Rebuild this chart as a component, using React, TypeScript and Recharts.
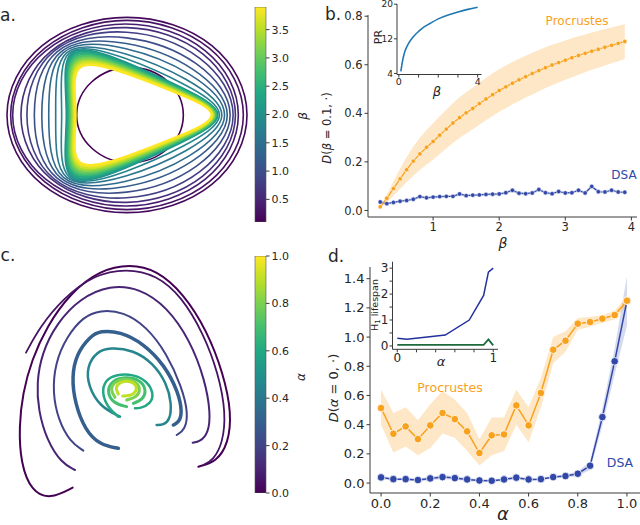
import React from 'react'
import { LineChart, ComposedChart, BarChart, Line, Area, Bar, XAxis, YAxis } from 'recharts'

const FONT = '"DejaVu Sans", Verdana, sans-serif'
const INK = '#262626'
const AXIS = '#3a3a3a'
const ORANGE = '#f8a11c'
const BLUE = '#3148a8'

// ---- panel b: distance to beta = 0.1
const betaB = [0.2, 0.3, 0.4, 0.5, 0.6, 0.7, 0.8, 0.9, 1.0, 1.1, 1.2, 1.3, 1.4, 1.5, 1.6, 1.7, 1.8, 1.9, 2.0, 2.1,
  2.2, 2.3, 2.4, 2.5, 2.6, 2.7, 2.8, 2.9, 3.0, 3.1, 3.2, 3.3, 3.4, 3.5, 3.6, 3.7, 3.8, 3.9]
const procB = [0.015, 0.05, 0.09, 0.13, 0.168, 0.203, 0.233, 0.26, 0.284, 0.31, 0.335, 0.36, 0.382, 0.402, 0.42, 0.44,
  0.459, 0.477, 0.494, 0.509, 0.524, 0.538, 0.551, 0.564, 0.576, 0.588, 0.599, 0.609, 0.619, 0.629, 0.638, 0.647,
  0.656, 0.664, 0.672, 0.68, 0.688, 0.696]
const procBSpread = [0.004, 0.016, 0.03, 0.042, 0.052, 0.06, 0.066, 0.071, 0.075, 0.078, 0.08, 0.082, 0.084, 0.085,
  0.086, 0.087, 0.087, 0.088, 0.088, 0.088, 0.087, 0.087, 0.086, 0.086, 0.085, 0.084, 0.083, 0.082, 0.081, 0.08,
  0.079, 0.078, 0.077, 0.076, 0.075, 0.074, 0.073, 0.072]
const dsaB = [0.035, 0.028, 0.033, 0.038, 0.041, 0.046, 0.057, 0.052, 0.055, 0.057, 0.058, 0.058, 0.068, 0.061, 0.063,
  0.064, 0.066, 0.067, 0.068, 0.073, 0.083, 0.071, 0.069, 0.072, 0.086, 0.073, 0.069, 0.078, 0.072, 0.073, 0.083,
  0.072, 0.099, 0.077, 0.076, 0.083, 0.076, 0.075]
const dsaBSpread = [0.006, 0.005, 0.005, 0.005, 0.005, 0.006, 0.006, 0.005, 0.005, 0.005, 0.005, 0.005, 0.006, 0.005,
  0.005, 0.005, 0.005, 0.005, 0.005, 0.006, 0.007, 0.006, 0.005, 0.006, 0.007, 0.006, 0.005, 0.006, 0.005, 0.005,
  0.006, 0.006, 0.008, 0.006, 0.005, 0.006, 0.005, 0.005]
const bTicksX = [1, 2, 3, 4]
const bTicksY = [0, 0.2, 0.4, 0.6, 0.8]

// ---- inset b: participation ratio
const betaPR = [0.1, 0.2, 0.3, 0.5, 0.7, 1.0, 1.3, 1.6, 2.0, 2.5, 3.0, 3.5, 4.0]
const prVals = [4.5, 7.2, 9.0, 11.0, 12.3, 13.7, 14.8, 15.6, 16.6, 17.5, 18.2, 18.8, 19.3]

// ---- panel d: distance to alpha = 0
const alphaD = [0, 0.05, 0.1, 0.15, 0.2, 0.25, 0.3, 0.35, 0.4, 0.45, 0.5, 0.55, 0.6, 0.65, 0.7, 0.75, 0.8, 0.85, 0.9, 0.95, 1.0]
const procD = [0.514, 0.338, 0.388, 0.301, 0.395, 0.48, 0.438, 0.354, 0.206, 0.327, 0.333, 0.532, 0.395, 0.617, 0.913,
  0.975, 1.092, 1.103, 1.126, 1.151, 1.249]
const procDLow = [0.4, 0.21, 0.25, 0.19, 0.24, 0.34, 0.31, 0.22, 0.12, 0.19, 0.22, 0.4, 0.28, 0.52, 0.82, 0.9, 1.05,
  1.07, 1.1, 1.12, 1.22]
const procDHigh = [0.64, 0.48, 0.52, 0.43, 0.54, 0.63, 0.57, 0.48, 0.3, 0.45, 0.45, 0.64, 0.52, 0.72, 1.0, 1.04, 1.13,
  1.14, 1.15, 1.18, 1.28]
const dsaD = [0.039, 0.027, 0.027, 0.021, 0.032, 0.041, 0.034, 0.025, 0.018, 0.016, 0.025, 0.037, 0.025, 0.027, 0.041,
  0.048, 0.064, 0.119, 0.452, 0.834, 1.249]
const dsaDSpread = [0.012, 0.01, 0.01, 0.01, 0.012, 0.015, 0.012, 0.01, 0.01, 0.01, 0.01, 0.012, 0.01, 0.01, 0.01, 0.012,
  0.015, 0.03, 0.06, 0.09, 0.17]
const dTicksX = [0, 0.2, 0.4, 0.6, 0.8, 1.0]
const dTicksY = [0, 0.2, 0.4, 0.6, 0.8, 1.0, 1.2, 1.4]

// ---- inset d: H1 lifespan
const alphaH1 = [0, 0.1, 0.5, 0.75, 0.9, 0.95, 1.0]
const h1Long = [0.3, 0.26, 0.42, 1.0, 1.95, 2.85, 3.0]
const h1Short = [0.04, 0.04, 0.04, 0.04, 0.04, 0.25, 0.02]

// ---- panel a: limit cycles for each beta (state space, control points)
const aBetas = [0.1, 0.2, 0.3, 0.4, 0.6, 0.8, 1.0, 1.2, 1.4, 1.6, 1.8, 2.0, 2.2, 2.4, 2.6, 2.8, 3.0, 3.2, 3.4, 3.6, 3.8, 3.9]
const aLoops = [
  [[6.2, 0], [4.5, 3.7], [0.3, 5.3], [-3.9, 3.7], [-5.6, 0], [-3.9, -3.7], [0.3, -5.3], [4.5, -3.7]],
  [[13.3, 0], [9.4, 7.7], [0, 10.8], [-9.4, 7.7], [-13.3, 0], [-9.4, -7.7], [0, -10.8], [9.4, -7.7]],
  [[12.9, 0], [9.1, 7.4], [0, 10.5], [-9.1, 7.4], [-12.9, 0], [-9.1, -7.4], [0, -10.5], [9.1, -7.4]],
  [[12.35, 0], [8.7, 7.1], [-0.15, 10.1], [-9.0, 7.1], [-12.65, 0], [-9.0, -7.1], [-0.15, -10.1], [8.7, -7.1]],
  [[12.1, 0], [8.33, 6.76], [0.02, 9.62], [-8.47, 7.17], [-11.67, 0], [-8.47, -7.17], [0.02, -9.62], [8.33, -6.76]],
  [[11.96, 0], [7.92, 6.25], [0.04, 9.04], [-8.28, 7.27], [-10.87, 0], [-8.28, -7.27], [0.04, -9.04], [7.92, -6.25]],
  [[11.77, 0], [7.41, 5.62], [0.08, 8.32], [-8.04, 7.39], [-9.88, 0], [-8.04, -7.39], [0.08, -8.32], [7.41, -5.62]],
  [[11.59, 0], [6.9, 4.98], [0.11, 7.6], [-7.8, 7.5], [-8.88, 0], [-7.8, -7.5], [0.11, -7.6], [6.9, -4.98]],
  [[11.42, 0], [6.43, 4.39], [0.14, 6.93], [-7.58, 7.63], [-7.95, 0], [-7.58, -7.63], [0.14, -6.93], [6.43, -4.39]],
  [[11.25, 0], [5.96, 3.79], [0.17, 6.26], [-7.35, 7.75], [-7.02, 0], [-7.35, -7.75], [0.17, -6.26], [5.96, -3.79]],
  [[11.1, 0], [5.55, 3.28], [0.2, 5.68], [-7.16, 7.85], [-6.22, 0], [-7.16, -7.85], [0.2, -5.68], [5.55, -3.28]],
  [[10.98, 0], [5.21, 2.86], [0.22, 5.2], [-7.0, 7.93], [-5.56, 0], [-7.0, -7.93], [0.22, -5.2], [5.21, -2.86]],
  [[10.9, 0], [5.19, 2.79], [0.24, 5.08], [-6.9, 7.75], [-5.47, 0], [-6.9, -7.75], [0.24, -5.08], [5.19, -2.79]],
  [[10.83, 0], [5.17, 2.73], [0.27, 4.96], [-6.8, 7.56], [-5.39, 0], [-6.8, -7.56], [0.27, -4.96], [5.17, -2.73]],
  [[10.75, 0], [5.15, 2.66], [0.3, 4.84], [-6.7, 7.38], [-5.3, 0], [-6.7, -7.38], [0.3, -4.84], [5.15, -2.66]],
  [[10.67, 0], [5.13, 2.6], [0.33, 4.72], [-6.6, 7.2], [-5.21, 0], [-6.6, -7.2], [0.33, -4.72], [5.13, -2.6]],
  [[10.59, 0], [5.11, 2.53], [0.36, 4.6], [-6.5, 7.02], [-5.13, 0], [-6.5, -7.02], [0.36, -4.6], [5.11, -2.53]],
  [[10.51, 0], [5.08, 2.46], [0.39, 4.48], [-6.4, 6.83], [-5.04, 0], [-6.4, -6.83], [0.39, -4.48], [5.08, -2.46]],
  [[10.43, 0], [5.06, 2.4], [0.41, 4.36], [-6.3, 6.65], [-4.96, 0], [-6.3, -6.65], [0.41, -4.36], [5.06, -2.4]],
  [[10.36, 0], [5.04, 2.33], [0.44, 4.24], [-6.2, 6.47], [-4.87, 0], [-6.2, -6.47], [0.44, -4.24], [5.04, -2.33]],
  [[10.28, 0], [5.02, 2.27], [0.47, 4.12], [-6.1, 6.28], [-4.79, 0], [-6.1, -6.28], [0.47, -4.12], [5.02, -2.27]],
  [[10.2, 0], [5, 2.2], [0.5, 4], [-6, 6.1], [-4.7, 0], [-6, -6.1], [0.5, -4], [5, -2.2]],
]

// ---- panel c: trajectories for each alpha
const cAlphas = [0, 0.05, 0.1, 0.2, 0.3, 0.45, 0.6, 0.7, 0.8, 0.9]
const cArcs = [
  [[-1.57, -3.11], [-2.25, -3.46], [-2.8, -3.23], [-3.13, -2.38], [-3.18, -1.28], [-3.07, -0.28], [-2.8, 0.72],
    [-2.35, 1.72], [-1.65, 2.72], [-0.75, 3.42], [0.15, 3.6], [0.95, 3.42], [1.75, 2.72], [2.45, 1.62], [2.95, 0.32],
    [3.2, -0.88], [3.1, -1.78], [2.75, -2.33], [2.2, -2.48]],
  [[-2.97, 0.94], [-2.55, 1.72], [-1.85, 2.57], [-0.95, 3.27], [0.05, 3.47], [0.95, 3.27], [1.7, 2.62], [2.35, 1.52],
    [2.8, 0.32], [3.03, -0.88], [2.93, -1.78], [2.65, -2.28], [2.35, -2.43]],
  [[-1.5, -2.58], [-1.9, -2.38], [-2.35, -1.68], [-2.6, -0.78], [-2.65, 0.02], [-2.5, 0.92], [-2.05, 1.82],
    [-1.35, 2.57], [-0.45, 2.97], [0.45, 2.87], [1.25, 2.32], [1.95, 1.32], [2.4, 0.12], [2.57, -0.88], [2.5, -1.48],
    [2.25, -1.73], [2.03, -1.76]],
  [[-1.25, -2.0], [-1.65, -1.73], [-2.0, -1.08], [-2.17, -0.28], [-2.1, 0.62], [-1.75, 1.42], [-1.25, 2.02],
    [-0.75, 2.22], [-0.05, 2.17], [0.65, 1.72], [1.25, 0.92], [1.7, -0.08], [1.9, -0.88], [1.8, -1.38], [1.55, -1.53]],
  [[-0.2, -1.93], [-0.75, -1.83], [-1.2, -1.38], [-1.5, -0.58], [-1.6, 0.22], [-1.45, 0.92], [-1.05, 1.42],
    [-0.75, 1.6], [-0.15, 1.57], [0.55, 1.22], [1.2, 0.55], [1.6, -0.25], [1.72, -0.85], [1.62, -1.15], [1.45, -1.23]],
  [[-0.15, -0.98], [-0.75, -0.68], [-1.1, -0.08], [-1.15, 0.52], [-0.85, 0.97], [-0.45, 1.1], [0.25, 1.02],
    [0.85, 0.62], [1.25, 0.02], [1.4, -0.58], [1.35, -1.08], [1.15, -1.23], [0.95, -1.23]],
  [[-0.2, -0.98], [-0.5, -0.73], [-0.7, -0.28], [-0.6, 0.12], [-0.25, 0.29], [0.25, 0.29], [0.65, 0.1], [0.87, -0.28],
    [0.77, -0.6], [0.45, -0.73], [0.3, -0.73]],
  [[0.05, -0.68], [-0.35, -0.58], [-0.55, -0.23], [-0.4, 0.1], [0, 0.22], [0.45, 0.14], [0.65, -0.18], [0.53, -0.48],
    [0.25, -0.58]],
  [[-0.3, -0.4], [-0.45, -0.16], [-0.3, 0.09], [0.03, 0.17], [0.37, 0.06], [0.47, -0.2], [0.33, -0.4], [0.05, -0.48]],
  [[-0.2, -0.3], [-0.3, -0.11], [-0.15, 0.06], [0.13, 0.1], [0.35, -0.02], [0.35, -0.23], [0.15, -0.36], [-0.07, -0.36]],
]
const cWidths = [2, 1.8, 2, 2, 3.5, 2.5, 2.5, 3, 3, 3]

const betaCb = [0.1, 3.9]
const betaCbTicks = [0.5, 1.0, 1.5, 2.0, 2.5, 3.0, 3.5]
const alphaCb = [0, 1]
const alphaCbTicks = [0, 0.2, 0.4, 0.6, 0.8, 1.0]

const VIRIDIS = ['#440154', '#482475', '#414487', '#355f8d', '#2a788e', '#21918c', '#22a884', '#44bf70', '#7ad151',
  '#bddf26', '#fde725']

function viridis(t: number) {
  const s = Math.min(Math.max(t, 0), 1) * (VIRIDIS.length - 1)
  const i = Math.min(Math.floor(s), VIRIDIS.length - 2)
  const f = s - i
  const rgb = (h: string) => [1, 3, 5].map((k) => parseInt(h.slice(k, k + 2), 16))
  const a = rgb(VIRIDIS[i])
  const b = rgb(VIRIDIS[i + 1])
  return `rgb(${a.map((c, k) => Math.round(c + (b[k] - c) * f)).join(',')})`
}

const bRows = betaB.map((beta, i) => ({
  beta,
  proc: procB[i],
  procBand: [procB[i] - procBSpread[i], procB[i] + procBSpread[i]],
  dsa: dsaB[i],
  dsaBand: [dsaB[i] - dsaBSpread[i], dsaB[i] + dsaBSpread[i]],
}))
const dRows = alphaD.map((alpha, i) => ({
  alpha,
  proc: procD[i],
  procBand: [procDLow[i], procDHigh[i]],
  dsa: dsaD[i],
  dsaBand: [dsaD[i] - dsaDSpread[i], dsaD[i] + dsaDSpread[i]],
}))
const prRows = betaPR.map((beta, i) => ({ beta, pr: prVals[i] }))
const h1Rows = alphaH1.map((alpha, i) => ({ alpha, long: h1Long[i], short: h1Short[i] }))

function Txt({ x, y, size, color = INK, rotate = 0, italic = false, children }: any) {
  return (
    <div
      style={{
        position: 'absolute', left: x, top: y, fontSize: size, color, lineHeight: 1, whiteSpace: 'nowrap',
        fontStyle: italic ? 'italic' : 'normal', transform: `translate(-50%, -50%) rotate(${rotate}deg)`,
      }}
    >
      {children}
    </div>
  )
}

function ColorBar({ id, left, top, height, range, ticks, mTop, mBottom }: any) {
  return (
    <div style={{ position: 'absolute', left, top }}>
      <BarChart width={70} height={height} data={[{ name: id, span: range }]} barCategoryGap={0}
        margin={{ top: mTop, right: 0, bottom: mBottom, left: 5 }}>
        <defs>
          <linearGradient id={id} x1="0" y1="1" x2="0" y2="0">
            {VIRIDIS.map((c, i) => <stop key={c} offset={`${i * 10}%`} stopColor={c} />)}
          </linearGradient>
        </defs>
        <XAxis dataKey="name" hide />
        <YAxis orientation="right" width={54} domain={range} ticks={ticks} interval={0} allowDataOverflow
          axisLine={false} tickSize={3.5} tickMargin={2} stroke={AXIS} tick={{ fill: INK, fontSize: 11 }}
          tickFormatter={(v: number) => v.toFixed(1)} />
        <Bar dataKey="span" fill={`url(#${id})`} stroke="#555" strokeWidth={0.6} isAnimationActive={false} />
      </BarChart>
    </div>
  )
}

export default function App() {
  const axisProps = { stroke: AXIS, tickSize: 3.5, tickMargin: 2, interval: 0 as const, allowDataOverflow: true }
  return (
    <div style={{ position: 'absolute', left: 0, top: 0, width: 640, height: 525, background: '#fff', fontFamily: FONT, overflow: 'hidden' }}>
      {/* a: limit cycles */}
      <div style={{ position: 'absolute', left: 0, top: 0 }}>
        <LineChart width={250} height={230} margin={{ top: 0, right: 0, bottom: 0, left: 0 }}>
          <XAxis type="number" dataKey="u" domain={[-12.7, 12.3]} hide allowDataOverflow />
          <YAxis type="number" domain={[-11.5, 11.5]} hide allowDataOverflow />
          {aLoops.map((pts, i) => (
            <Line key={i} data={pts.map(([u, v]) => ({ u, v }))} dataKey="v" type="basisClosed"
              stroke={viridis((aBetas[i] - 0.1) / 3.8)} strokeWidth={aBetas[i] >= 2 ? 2.2 : 1.6}
              dot={false} activeDot={false} isAnimationActive={false} />
          ))}
        </LineChart>
      </div>
      <ColorBar id="cbBeta" left={250} top={0} height={230} range={betaCb} ticks={betaCbTicks} mTop={7} mBottom={8} />

      {/* c: trajectories */}
      <div style={{ position: 'absolute', left: 0, top: 258 }}>
        <LineChart width={250} height={252} margin={{ top: 0, right: 0, bottom: 0, left: 0 }}>
          <XAxis type="number" dataKey="u" domain={[-3.75, 3.75]} hide allowDataOverflow />
          <YAxis type="number" domain={[-3.78, 3.78]} hide allowDataOverflow />
          {cArcs.map((pts, i) => (
            <Line key={i} data={pts.map(([u, v]) => ({ u, v }))} dataKey="v" type="basis"
              stroke={viridis(cAlphas[i])} strokeWidth={cWidths[i]} strokeLinecap="round"
              dot={false} activeDot={false} isAnimationActive={false} />
          ))}
        </LineChart>
      </div>
      <ColorBar id="cbAlpha" left={250} top={250} height={250} range={alphaCb} ticks={alphaCbTicks} mTop={6} mBottom={7} />

      {/* b: main */}
      <div style={{ position: 'absolute', left: 318, top: 0 }}>
        <ComposedChart width={322} height={255} data={bRows} margin={{ top: 15, right: 3, bottom: 0, left: 0 }}>
          <XAxis type="number" dataKey="beta" domain={[0.015, 4.085]} ticks={bTicksX} height={38}
            tick={{ fill: INK, fontSize: 11.5 }} {...axisProps} />
          <YAxis type="number" domain={[-0.027, 0.805]} ticks={bTicksY} width={50}
            tick={{ fill: INK, fontSize: 11.5 }} tickFormatter={(v: number) => v.toFixed(1)} {...axisProps} />
          <Area dataKey="procBand" type="linear" stroke="none" fill={ORANGE} fillOpacity={0.25} activeDot={false} isAnimationActive={false} />
          <Area dataKey="dsaBand" type="linear" stroke="none" fill={BLUE} fillOpacity={0.2} activeDot={false} isAnimationActive={false} />
          <Line dataKey="dsa" type="linear" stroke={BLUE} strokeWidth={1.2}
            dot={{ r: 2.2, fill: BLUE, stroke: '#fff', strokeWidth: 0.5 }} activeDot={false} isAnimationActive={false} />
          <Line dataKey="proc" type="linear" stroke={ORANGE} strokeWidth={1.2}
            dot={{ r: 2.2, fill: ORANGE, stroke: '#fff', strokeWidth: 0.5 }} activeDot={false} isAnimationActive={false} />
        </ComposedChart>
      </div>

      {/* b: inset */}
      <div style={{ position: 'absolute', left: 370, top: 0 }}>
        <LineChart width={114} height={100} data={prRows} margin={{ top: 4, right: 2.5, bottom: 0, left: 0 }}>
          <XAxis type="number" dataKey="beta" domain={[-0.095, 4.195]} ticks={[0, 1, 2, 3, 4]} height={25.5}
            tick={{ fill: INK, fontSize: 9.5 }} tickFormatter={(v: number) => (v === 0 || v === 4 ? String(v) : '')}
            {...axisProps} tickSize={3} tickMargin={1} />
          <YAxis type="number" domain={[3.76, 20.04]} ticks={[4, 12, 20]} width={27}
            tick={{ fill: INK, fontSize: 9 }} {...axisProps} tickSize={3} tickMargin={1} />
          <Line dataKey="pr" type="monotone" stroke="#1f77b4" strokeWidth={1.6} dot={false} activeDot={false} isAnimationActive={false} />
        </LineChart>
      </div>

      {/* d: main */}
      <div style={{ position: 'absolute', left: 318, top: 258 }}>
        <ComposedChart width={322} height={267} data={dRows} margin={{ top: 9, right: 0, bottom: 0, left: 0 }}>
          <XAxis type="number" dataKey="alpha" domain={[-0.045, 1.053]} ticks={dTicksX} height={32}
            tick={{ fill: INK, fontSize: 13 }} tickFormatter={(v: number) => v.toFixed(1)} {...axisProps} />
          <YAxis type="number" domain={[-0.068, 1.48]} ticks={dTicksY} width={52}
            tick={{ fill: INK, fontSize: 13 }} tickFormatter={(v: number) => v.toFixed(1)} {...axisProps} />
          <Area dataKey="dsaBand" type="linear" stroke="none" fill={BLUE} fillOpacity={0.2} activeDot={false} isAnimationActive={false} />
          <Area dataKey="procBand" type="linear" stroke="none" fill={ORANGE} fillOpacity={0.25} activeDot={false} isAnimationActive={false} />
          <Line dataKey="dsa" type="linear" stroke={BLUE} strokeWidth={1.5}
            dot={{ r: 3.8, fill: BLUE, stroke: '#fff', strokeWidth: 0.8 }} activeDot={false} isAnimationActive={false} />
          <Line dataKey="proc" type="linear" stroke={ORANGE} strokeWidth={1.5}
            dot={{ r: 3.8, fill: ORANGE, stroke: '#fff', strokeWidth: 0.8 }} activeDot={false} isAnimationActive={false} />
        </ComposedChart>
      </div>

      {/* d: inset */}
      <div style={{ position: 'absolute', left: 366, top: 258 }}>
        <LineChart width={134} height={110} data={h1Rows} margin={{ top: 3.7, right: 2, bottom: 0, left: 0 }}>
          <XAxis type="number" dataKey="alpha" domain={[-0.05, 1.05]} ticks={[0, 0.2, 0.4, 0.6, 0.8, 1]} height={18.7}
            tick={{ fill: INK, fontSize: 12 }} tickFormatter={(v: number) => (v === 0 || v === 1 ? String(v) : '')}
            {...axisProps} tickSize={3} tickMargin={1} />
          <YAxis type="number" domain={[-0.13, 3.25]} ticks={[0, 0.5, 1, 1.5, 2, 2.5, 3]} width={26.5}
            tick={{ fill: INK, fontSize: 12 }} tickFormatter={(v: number) => (Number.isInteger(v) ? String(v) : '')}
            {...axisProps} tickSize={3} tickMargin={1} />
          <Line dataKey="long" type="linear" stroke="#22319c" strokeWidth={1.5} dot={false} activeDot={false} isAnimationActive={false} />
          <Line dataKey="short" type="linear" stroke="#1d6b3c" strokeWidth={1.8} dot={false} activeDot={false} isAnimationActive={false} />
        </LineChart>
      </div>

      {/* texts */}
      <Txt x={8} y={15} size={17}>a.</Txt>
      <Txt x={333} y={14} size={17}>b.</Txt>
      <Txt x={8} y={255} size={17}>c.</Txt>
      <Txt x={336} y={256} size={17}>d.</Txt>
      <Txt x={303} y={116} size={12} rotate={-90} italic>β</Txt>
      <Txt x={301} y={377} size={12} rotate={-90} italic>α</Txt>
      <Txt x={328} y={128} size={11.5} rotate={-90}><i>D</i>(<i>β</i> = 0.1, ·)</Txt>
      <Txt x={503} y={243} size={14} italic>β</Txt>
      <Txt x={333} y={388} size={13} rotate={-90}><i>D</i>(<i>α</i> = 0, ·)</Txt>
      <Txt x={503} y={514} size={18} italic>α</Txt>
      <Txt x={577} y={21} size={12} color={ORANGE}>Procrustes</Txt>
      <Txt x={624} y={175} size={12} color={BLUE}>DSA</Txt>
      <Txt x={450} y={388} size={12.5} color={ORANGE}>Procrustes</Txt>
      <Txt x={620} y={463} size={12.5} color={BLUE}>DSA</Txt>
      <Txt x={378} y={37} size={11} rotate={-90}>PR</Txt>
      <Txt x={437} y={91} size={13} italic>β</Txt>
      <Txt x={376} y={305} size={9.5} rotate={-90}>H<sub style={{ fontSize: 7 }}>1</sub> lifespan</Txt>
      <Txt x={441} y={361} size={13} italic>α</Txt>
    </div>
  )
}
